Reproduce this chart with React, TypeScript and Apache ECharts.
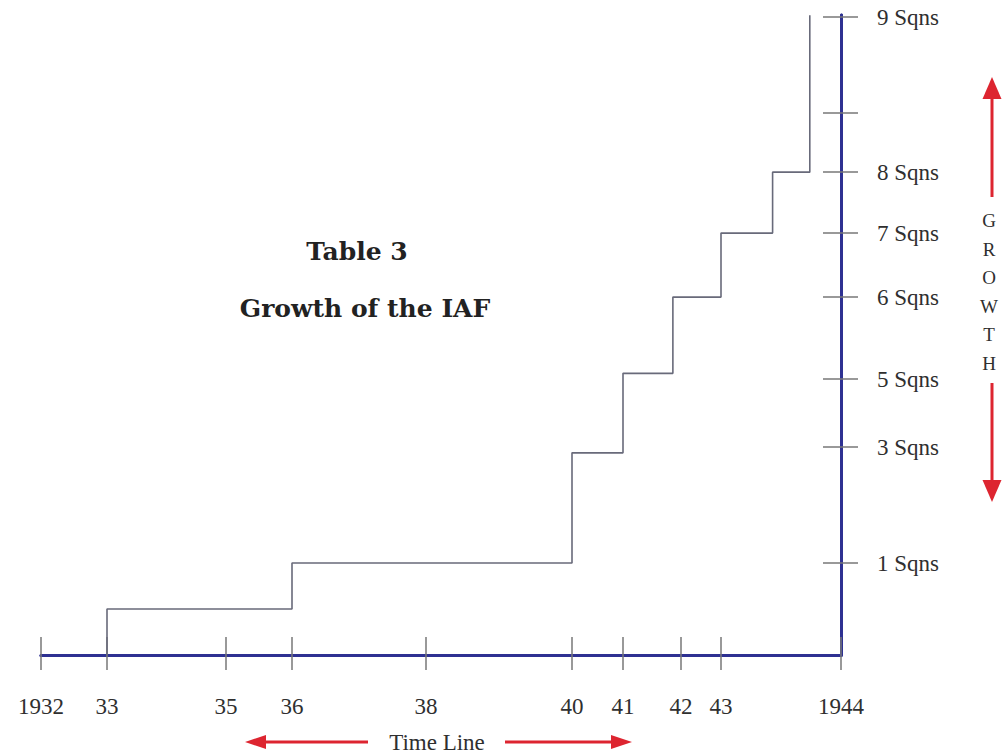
import React, { useEffect, useRef } from "react";
import * as echarts from "echarts";

// Time line: tick years, their labels, and the drawing's (not-to-scale) spacing along the line (0–120)
const yearTicks = [1932, 1933, 1935, 1936, 1938, 1940, 1941, 1942, 1943, 1944];
const yearLabels = ["1932", "33", "35", "36", "38", "40", "41", "42", "43", "1944"];
const yearScale = [0, 9.9, 27.75, 37.65, 57.75, 79.65, 87.3, 96, 102, 120];

// Growth axis: squadron ticks, labels and the drawing's (not-to-scale) spacing (0–90)
const sqnTicks = [0, 1, 3, 5, 6, 7, 8, 8.5, 9];
const sqnLabels = ["", "1 Sqns", "3 Sqns", "5 Sqns", "6 Sqns", "7 Sqns", "8 Sqns", "", "9 Sqns"];
const sqnScale = [0, 12.98, 29.34, 38.93, 50.5, 59.53, 68.13, 76.46, 90];

// Step series: year of each increase and strength (squadrons) reached
const stepYears = [1933, 1933, 1936, 1940, 1941, 1941.86, 1943, 1943.43, 1943.74];
const stepSqns = [0, 0.5, 1, 2.9, 5.07, 6, 7, 8, 9.01];

const titleLines = ["Table 3", "Growth of the IAF"];
const growthText = "GROWTH";
const timeLineText = "Time Line";

function interp(v: number, from: number[], to: number[]): number {
  let i = 0;
  while (i < from.length - 2 && v > from[i + 1]) i++;
  const t = (v - from[i]) / (from[i + 1] - from[i]);
  return to[i] + t * (to[i + 1] - to[i]);
}

const SERIF = "'Liberation Serif', 'Times New Roman', serif";
const AXIS_BLUE = "#2e3192";
const TICK_GREY = "#777777";
const RED = "#dd2530";
const TEXT = "#2f2f2f";

const xMax = yearScale[yearScale.length - 1];
const yMax = 90.3;

function labelFor(val: number, scale: number[], labels: string[]) {
  const i = scale.findIndex((p) => Math.abs(p - val) < 1e-6);
  return i >= 0 ? labels[i] : "";
}

function buildOption() {
  const data = stepYears.map((y, i) => [interp(y, yearTicks, yearScale), interp(stepSqns[i], sqnTicks, sqnScale)]);
  const baseX = {
    type: "value",
    min: 0,
    max: xMax,
    position: "bottom",
    splitLine: { show: false },
    axisLine: { show: true, onZero: false, lineStyle: { color: AXIS_BLUE, width: 3 } },
  };
  const baseY = {
    type: "value",
    min: 0,
    max: yMax,
    position: "right",
    splitLine: { show: false },
    axisLine: { show: true, onZero: false, lineStyle: { color: AXIS_BLUE, width: 3 } },
  };
  const arrowLine = (x1: number, y1: number, x2: number, y2: number) => ({
    type: "line",
    shape: { x1, y1, x2, y2 },
    style: { stroke: RED, lineWidth: 3 },
  });
  const tri = (points: number[][]) => ({
    type: "polygon",
    shape: { points },
    style: { fill: RED },
  });
  return {
    animation: false,
    backgroundColor: "#ffffff",
    grid: { left: 41, right: 164, top: 15, bottom: 99, containLabel: false },
    xAxis: [
      {
        ...baseX,
        axisTick: { show: true, inside: false, length: 15, customValues: yearScale, lineStyle: { color: TICK_GREY, width: 1.5 } },
        axisLabel: {
          show: true,
          customValues: yearScale,
          margin: 40,
          color: TEXT,
          fontFamily: SERIF,
          fontSize: 23,
          formatter: (v: number) => labelFor(v, yearScale, yearLabels),
        },
      },
      {
        ...baseX,
        axisTick: { show: true, inside: true, length: 18, customValues: yearScale, lineStyle: { color: TICK_GREY, width: 1.5 } },
        axisLabel: { show: false },
      },
    ],
    yAxis: [
      {
        ...baseY,
        axisTick: { show: true, inside: false, length: 17, customValues: sqnScale.slice(1), lineStyle: { color: TICK_GREY, width: 1.5 } },
        axisLabel: {
          show: true,
          customValues: sqnScale.slice(1),
          margin: 36,
          color: TEXT,
          fontFamily: SERIF,
          fontSize: 23,
          formatter: (v: number) => labelFor(v, sqnScale, sqnLabels),
        },
      },
      {
        ...baseY,
        axisTick: { show: true, inside: true, length: 18, customValues: sqnScale.slice(1), lineStyle: { color: TICK_GREY, width: 1.5 } },
        axisLabel: { show: false },
      },
    ],
    series: [
      {
        type: "line",
        xAxisIndex: 0,
        yAxisIndex: 0,
        step: "end",
        symbol: "none",
        clip: false,
        z: 1,
        lineStyle: { color: "#686a7a", width: 1.6 },
        data,
      },
    ],
    graphic: [
      {
        type: "text",
        x: 357,
        y: 251,
        style: { text: titleLines[0], fontFamily: "'DejaVu Serif', serif", fontWeight: "bold", fontSize: 25, fill: "#222", align: "center", verticalAlign: "middle" },
      },
      {
        type: "text",
        x: 365,
        y: 308,
        style: { text: titleLines[1], fontFamily: "'DejaVu Serif', serif", fontWeight: "bold", fontSize: 25, fill: "#222", align: "center", verticalAlign: "middle" },
      },
      {
        type: "text",
        x: 989,
        y: 292,
        style: {
          text: growthText.split("").join("\n"),
          fontFamily: SERIF,
          fontSize: 19,
          lineHeight: 28.6,
          fill: TEXT,
          align: "center",
          verticalAlign: "middle",
        },
      },
      arrowLine(992, 96, 992, 197),
      tri([[992, 77], [982.5, 99], [1001.5, 99]]),
      arrowLine(992, 383, 992, 484),
      tri([[992, 502], [982.5, 480], [1001.5, 480]]),
      {
        type: "text",
        x: 437,
        y: 742,
        style: { text: timeLineText, fontFamily: SERIF, fontSize: 23, fill: TEXT, align: "center", verticalAlign: "middle" },
      },
      arrowLine(263, 742, 368, 742),
      tri([[245, 742], [266, 735], [266, 749]]),
      arrowLine(505, 742, 614, 742),
      tri([[632, 742], [611, 735], [611, 749]]),
    ],
  };
}

export default function App() {
  const ref = useRef<HTMLDivElement | null>(null);
  useEffect(() => {
    if (!ref.current) return;
    const chart = echarts.init(ref.current, null, { renderer: "svg" });
    chart.setOption(buildOption() as any);
    return () => chart.dispose();
  }, []);
  return (
    <div
      ref={ref}
      style={{ position: "absolute", left: 0, top: 0, width: 1005, height: 754, background: "#ffffff" }}
    />
  );
}
